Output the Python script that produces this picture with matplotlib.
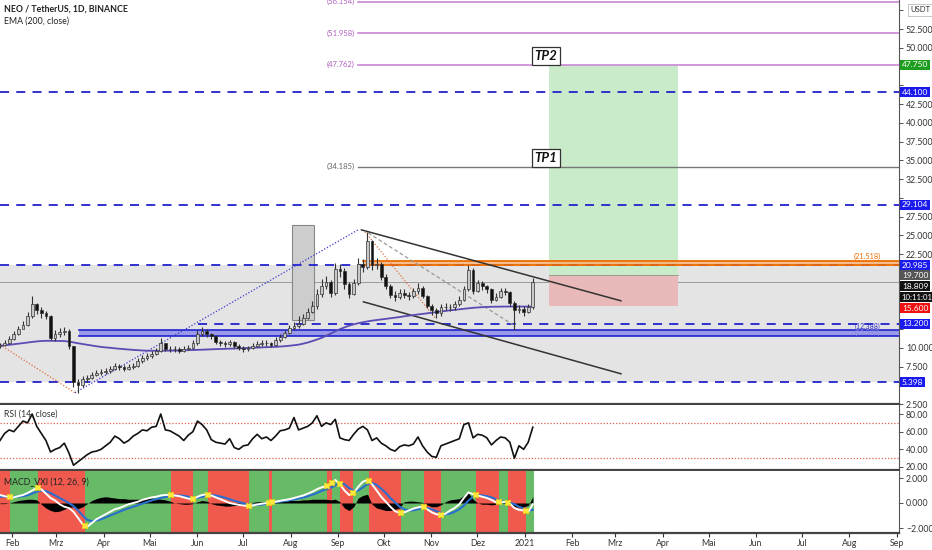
import numpy as np
import pandas as pd
import matplotlib
matplotlib.use("Agg")
import matplotlib.pyplot as plt
from matplotlib.patches import Rectangle

plt.rcParams['font.family'] = ['Lato', 'DejaVu Sans']

# ---------------- data ----------------
start_date = "2020-01-24"
step_days = 3
close = [10.4,10.6,11.2,11.8,12.5,13.0,14.2,15.8,15.0,14.6,
         14.2,11.3,11.8,12.1,12.3,10.2,5.5,5.0,5.8,6.0,
         6.4,6.6,6.8,6.9,7.2,7.6,7.4,7.2,7.4,7.6,
         8.2,8.6,8.9,9.2,9.6,10.6,9.9,9.8,9.9,9.6,
         9.8,10.0,10.6,11.9,12.3,11.8,11.6,10.8,10.6,10.5,
         10.8,10.3,10.0,9.9,10.0,10.3,10.5,10.6,10.6,10.4,
         11.0,11.5,12.0,12.6,12.9,13.2,14.0,14.8,15.6,17.2,
         18.3,18.8,17.3,20.5,20.3,18.5,17.2,18.6,21.2,20.8,
         24.3,21.0,21.2,19.4,18.2,17.0,16.8,17.3,17.1,16.9,
         17.6,18.0,16.9,15.6,15.0,14.6,15.4,15.5,15.4,15.8,
         16.4,17.8,20.4,17.6,18.6,18.2,17.8,16.4,16.8,17.6,
         17.4,16.0,15.0,15.2,14.8,15.4,18.8]
high = [10.7,11.0,11.6,12.2,12.9,13.6,14.8,16.9,16.0,15.4,
        14.9,14.4,12.4,12.6,12.8,12.5,10.3,5.9,6.3,6.4,
        6.8,7.0,7.2,7.3,7.6,8.0,7.9,7.7,7.8,8.0,
        8.6,9.0,9.3,9.6,10.0,11.3,10.7,10.3,10.3,10.1,
        10.2,10.4,11.0,12.4,12.8,12.5,12.0,11.7,11.0,10.9,
        11.1,10.9,10.5,10.3,10.3,10.7,10.9,11.0,11.0,10.8,
        11.4,11.9,12.4,13.0,13.4,14.3,14.5,15.3,16.2,17.8,
        19.2,19.6,19.0,21.3,21.2,20.6,18.8,19.2,22.0,21.8,
        25.4,24.4,22.0,21.5,19.8,18.5,17.6,17.8,17.8,17.5,
        18.0,18.6,18.2,17.1,15.8,15.3,15.9,16.0,15.9,16.2,
        16.9,18.3,21.0,20.6,19.0,18.9,18.4,18.0,17.3,18.0,
        18.0,17.6,16.2,15.7,15.6,15.8,19.3]
low = [10.0,10.2,10.5,11.1,11.7,12.6,12.9,14.0,14.5,14.0,
       13.8,11.0,10.9,11.5,11.7,9.8,4.8,4.0,4.8,5.5,
       5.8,6.2,6.4,6.5,6.7,7.1,7.0,6.9,7.0,7.2,
       7.5,8.0,8.4,8.7,9.1,9.4,9.6,9.5,9.5,9.3,
       9.4,9.7,9.9,10.4,11.6,11.4,11.2,10.5,10.3,10.1,
       10.3,10.0,9.7,9.5,9.6,9.8,10.1,10.2,10.3,10.1,
       10.3,10.8,11.3,11.8,12.4,12.6,13.1,13.8,14.6,15.2,
       16.8,17.8,16.8,17.1,19.4,17.9,16.6,17.0,18.4,20.1,
       20.5,20.4,20.5,19.0,17.8,16.6,16.2,16.5,16.6,16.4,
       16.6,17.2,16.6,15.3,14.4,14.0,14.3,15.0,14.9,15.1,
       15.6,16.2,17.6,17.2,17.4,17.7,17.3,16.0,16.2,16.6,
       17.0,15.6,12.4,14.6,14.3,14.6,15.2]
first_open = 10.2
ema200 = [10.27,10.33,10.40,10.47,10.55,10.62,10.70,10.78,10.85,10.90,
          10.93,10.93,10.92,10.91,10.90,10.82,10.72,10.60,10.50,10.40,
          10.30,10.20,10.12,10.05,10.00,9.93,9.87,9.82,9.77,9.72,
          9.68,9.64,9.61,9.60,9.60,9.61,9.61,9.62,9.62,9.64,
          9.66,9.68,9.70,9.72,9.75,9.77,9.80,9.82,9.84,9.86,
          9.88,9.90,9.92,9.95,9.98,10.01,10.03,10.05,10.08,10.10,
          10.13,10.17,10.21,10.27,10.34,10.42,10.55,10.70,10.90,11.10,
          11.32,11.60,11.90,12.20,12.48,12.72,12.95,13.12,13.28,13.40,
          13.52,13.62,13.70,13.78,13.86,13.94,14.02,14.10,14.20,14.28,
          14.36,14.45,14.52,14.60,14.68,14.76,14.85,14.92,15.00,15.06,
          15.13,15.20,15.27,15.33,15.38,15.42,15.45,15.47,15.48,15.49,
          15.50,15.50,15.50,15.50,15.50,15.50,15.50]
rsi = [50,58,62,60,66,72,70,80,66,58,
       50,37,40,42,47,36,22,26,30,34,
       37,38,40,44,48,55,52,47,50,55,
       58,62,61,65,66,80,62,61,58,55,
       50,56,60,72,68,62,51,48,47,46,
       52,42,40,44,45,52,57,52,54,50,
       55,61,62,64,76,62,64,66,70,78,
       66,70,68,74,53,51,50,57,63,66,
       62,50,53,47,44,40,38,43,45,44,
       46,54,44,37,32,31,44,46,48,50,
       52,68,70,53,57,56,53,45,50,54,
       53,48,30,44,40,48,65]
macd = [0.64,0.55,0.45,0.45,0.55,0.64,0.8,1.0,1.2,1.1,
        0.75,0.4,0.2,-0.1,-0.3,-0.4,-0.7,-1.2,-1.7,-1.9,
        -1.6,-1.3,-1.1,-0.9,-0.7,-0.5,-0.4,-0.25,-0.1,0.0,
        0.1,0.25,0.35,0.45,0.5,0.6,0.65,0.64,0.6,0.55,
        0.45,0.35,0.3,0.5,0.64,0.7,0.6,0.45,0.3,0.15,
        0.0,-0.08,-0.15,-0.2,-0.24,-0.2,-0.12,-0.05,0.0,0.06,
        0.1,0.18,0.24,0.3,0.4,0.5,0.6,0.75,0.9,1.1,
        1.25,1.35,1.5,1.85,1.5,1.0,0.64,0.8,1.3,1.7,
        1.84,1.5,1.0,0.5,0.1,-0.3,-0.65,-0.8,-0.75,-0.6,
        -0.45,-0.35,-0.3,-0.5,-0.75,-0.9,-0.96,-0.85,-0.6,-0.4,
        -0.1,0.4,0.85,0.7,0.6,0.5,0.4,0.25,0.05,0.05,
        0.1,-0.05,-0.4,-0.55,-0.6,-0.72,-0.1]
signal = [0.5,0.52,0.5,0.48,0.5,0.55,0.62,0.75,0.9,1.0,
          0.95,0.8,0.6,0.4,0.2,0.0,-0.25,-0.6,-1.0,-1.35,
          -1.45,-1.4,-1.3,-1.15,-1.0,-0.85,-0.7,-0.55,-0.42,-0.3,
          -0.18,-0.05,0.08,0.2,0.3,0.4,0.48,0.54,0.58,0.6,
          0.57,0.5,0.42,0.42,0.5,0.58,0.62,0.6,0.52,0.42,
          0.3,0.18,0.08,-0.02,-0.1,-0.15,-0.16,-0.12,-0.06,0.0,
          0.05,0.1,0.16,0.22,0.28,0.36,0.44,0.54,0.66,0.8,
          0.96,1.1,1.22,1.4,1.6,1.5,1.2,0.95,1.0,1.25,
          1.5,1.6,1.45,1.15,0.8,0.4,0.05,-0.3,-0.5,-0.6,
          -0.58,-0.5,-0.42,-0.4,-0.5,-0.65,-0.8,-0.9,-0.85,-0.7,
          -0.5,-0.2,0.2,0.5,0.62,0.6,0.55,0.45,0.3,0.15,
          0.08,0.05,-0.1,-0.3,-0.45,-0.6,-0.55]
hist = [-0.05,-0.05,0.0,0.1,0.2,0.25,0.3,0.3,0.25,-0.1,
        -0.4,-0.6,-0.7,-0.65,-0.5,-0.35,-0.3,-0.45,-0.3,-0.05,
        0.2,0.35,0.45,0.5,0.45,0.4,0.35,0.35,0.3,0.3,
        0.3,0.3,0.35,0.4,0.35,0.3,0.25,0.15,0.0,-0.05,
        -0.1,-0.1,-0.05,0.1,0.2,0.15,-0.05,-0.15,-0.2,-0.25,
        -0.25,-0.2,-0.15,-0.1,-0.05,0.05,0.1,0.1,0.1,0.05,
        0.1,0.15,0.15,0.2,0.2,0.2,0.25,0.25,0.3,0.3,
        0.3,0.3,0.25,0.3,0.1,-0.4,-0.6,-0.3,0.4,0.6,
        0.7,-0.1,-0.4,-0.5,-0.6,-0.6,-0.5,-0.4,0.1,0.15,
        0.15,0.1,0.05,-0.15,-0.3,-0.3,-0.15,0.1,0.25,0.3,
        0.35,0.6,0.8,0.3,0.0,-0.1,-0.1,-0.15,-0.1,0.0,
        0.05,-0.1,-0.3,-0.35,-0.3,-0.2,0.5]
# MACD regime changes (dates) ; first regime is bearish
regime_dates = ["2020-01-24","2020-01-31","2020-02-18","2020-03-20","2020-05-15",
                "2020-05-29","2020-06-08","2020-07-05","2020-07-18","2020-07-20",
                "2020-08-25","2020-08-28","2020-09-02","2020-09-11","2020-09-21",
                "2020-10-12","2020-10-27","2020-11-07","2020-11-30","2020-12-15",
                "2020-12-21","2021-01-02","2021-01-07"]

# horizontal levels
dash_levels = [44.100, 29.104, 20.985, 5.398]
level_13 = 13.200
fib_levels = [56.154, 51.958, 47.762]
tp1_level = 34.185
orange_band = (20.985, 21.518)
blue_band = (11.592, 12.388)
last_price = 18.809
tp2_price, entry_price, stop_price = 47.750, 19.700, 15.600

month_labels = ["Feb","Mrz","Apr","Mai","Jun","Jul","Aug","Sep","Okt","Nov","Dez",
                "2021","Feb","Mrz","Apr","Mai","Jun","Jul","Aug","Sep"]
month_dates = ["2020-02-01","2020-03-01","2020-04-01","2020-05-01","2020-06-01","2020-07-01",
               "2020-08-01","2020-09-01","2020-10-01","2020-11-01","2020-12-01","2021-01-01",
               "2021-02-01","2021-03-01","2021-04-01","2021-05-01","2021-06-01","2021-07-01",
               "2021-08-01","2021-09-01"]

# ---------------- helpers ----------------
ORIGIN = pd.Timestamp("2020-01-01")
def dnum(s):
    return (pd.Timestamp(s) - ORIGIN).days

n = len(close)
days = dnum(start_date) + 0.2 + np.arange(n) * step_days
opens = [first_open] + close[:-1]
XMIN, XMAX = 23.2, 610.4

W, H = 932, 550
fig = plt.figure(figsize=(W / 100, H / 100), dpi=100)
fig.patch.set_facecolor("white")

def rect(top, bottom, left=0, right=899):
    return [left / W, 1 - bottom / H, (right - left) / W, (bottom - top) / H]

ax = fig.add_axes(rect(0, 404))
ax_r = fig.add_axes(rect(405, 470))
ax_m = fig.add_axes(rect(471, 533))

for a in (ax, ax_r, ax_m):
    a.set_xlim(XMIN, XMAX)
    a.set_facecolor("white")
    a.spines["left"].set_visible(False)
    a.spines["right"].set_color("#555")
    a.spines["top"].set_visible(False)
    a.spines["bottom"].set_color("#444")
    a.spines["bottom"].set_linewidth(1.6)
    a.yaxis.tick_right()
    a.tick_params(axis="y", which="both", labelsize=6.3, colors="#333", length=3, width=0.6, pad=2)
    a.tick_params(axis="x", bottom=False, labelbottom=False)

ax.set_ylim(2.533, 56.4)
ax_r.set_ylim(16.6, 90.2)
ax_m.set_ylim(-2.4, 2.56)

# price axis ticks (labels hidden where a coloured price tag covers them)
pt = np.arange(2.5, 56, 2.5)
covered = {5.0, 12.5, 15.0, 17.5, 20.0, 30.0, 45.0, 47.5, 55.0}
ax.set_yticks(pt)
ax.set_yticklabels(["" if round(v, 1) in covered else f"{v:.3f}" for v in pt])
ax_r.set_yticks([20, 40, 60, 80])
ax_r.set_yticklabels(["20.00", "40.00", "60.00", "80.00"])
ax_m.set_yticks([-2, 0, 2])
ax_m.set_yticklabels(["\u22122.000", "0.000", "2.000"])

# x ticks on MACD panel
md = [dnum(d) for d in month_dates]
ax_m.set_xticks(md)
ax_m.set_xticklabels(month_labels)
ax_m.tick_params(axis="x", bottom=True, labelbottom=True, labelsize=6.3, colors="#333", length=3, pad=1.5)

# ---------------- price panel ----------------
ax.axhspan(dash_levels[3], dash_levels[2], color="#e4e4e4", zorder=0, lw=0)
ax.axhline(last_price, color="#9a9a9a", lw=0.7, zorder=1)

# vertical gray box
ax.add_patch(Rectangle((dnum("2020-08-02"), 13.73), 14.3, 26.4 - 13.73,
                       fc="#cdcdcd", ec="#888", lw=0.8, zorder=1))

# trade boxes
bx0, bx1 = dnum("2021-01-17") - 0.2, dnum("2021-04-11")
ax.add_patch(Rectangle((bx0, entry_price), bx1 - bx0, tp2_price - entry_price,
                       fc="#c9ebc9", ec="none", zorder=1))
ax.add_patch(Rectangle((bx0, stop_price), bx1 - bx0, entry_price - stop_price,
                       fc="#e9b8b8", ec="none", zorder=1))
ax.plot([bx0, bx1], [entry_price, entry_price], color="#8a9a8a", lw=0.6, zorder=1)

# dashed blue levels
for lv in dash_levels:
    ax.axhline(lv, color="#2222cc", lw=1.3, ls=(0, (5, 4)), zorder=3)
ax.plot([dnum("2020-06-01") + 0.8, XMAX], [level_13, level_13], color="#2222cc",
        lw=1.3, ls=(0, (5, 4)), zorder=3)

# blue band
bb0 = dnum("2020-03-16")
ax.fill_between([bb0, XMAX], blue_band[0], blue_band[1], color="#6a6aee", alpha=0.6, lw=0, zorder=2)
ax.plot([bb0, XMAX], [blue_band[0]] * 2, color="#2323d0", lw=1.2, zorder=3)
ax.plot([bb0, XMAX], [blue_band[1]] * 2, color="#2323d0", lw=1.2, zorder=3)

# orange band
ob0 = dnum("2020-09-17")
ax.fill_between([ob0, XMAX], orange_band[0], orange_band[1], color="#f7b27a", alpha=0.85, lw=0, zorder=2)
ax.plot([ob0, XMAX], [orange_band[0]] * 2, color="#ef6c00", lw=1.3, zorder=3)
ax.plot([ob0, XMAX], [orange_band[1]] * 2, color="#ef6c00", lw=1.3, zorder=3)

# fib / target lines
fx0 = dnum("2020-09-14")
for lv in fib_levels:
    ax.plot([fx0, XMAX], [lv, lv], color="#cc88d6", lw=1.2, zorder=3)
    ax.text(fx0 - 2, lv, f"({lv:.3f})", color="#b060c0", fontsize=5.5, ha="right", va="center", zorder=4)
ax.plot([fx0, XMAX], [tp1_level, tp1_level], color="#777", lw=1.0, zorder=3)
ax.text(fx0 - 2, tp1_level, f"({tp1_level:.3f})", color="#666", fontsize=5.5, ha="right", va="center", zorder=4)

ax.text(XMAX - 12, orange_band[1] + 0.15, f"({orange_band[1]:.3f})", color="#ef6c00", fontsize=5.3,
        ha="right", va="bottom", zorder=4)
ax.text(XMAX - 12, blue_band[1] + 0.45, f"({blue_band[1]:.3f})", color="#2a2acc", fontsize=5.0,
        ha="right", va="center", zorder=4)
ax.text(XMAX - 12, blue_band[0] + 0.4, f"({blue_band[0]:.3f})", color="#8a8ae0", fontsize=5.0,
        ha="right", va="center", zorder=4)

# TP labels
for lbl, yv in (("TP2", 48.9), ("TP1", 35.3)):
    ax.text(bx0 - 2, yv, lbl, fontsize=9.5, fontstyle="italic", fontweight="bold", color="#111",
            ha="center", va="center", zorder=6,
            bbox=dict(boxstyle="square,pad=0.22", fc="white", ec="#333", lw=0.9))

# channel lines
ax.plot([dnum("2020-09-16") + 0.3, dnum("2021-03-04") + 0.8], [25.73, 16.27], color="#333", lw=1.1, zorder=4)
ax.plot([dnum("2020-09-17") + 0.6, dnum("2021-03-04") + 0.8], [16.13, 6.53], color="#333", lw=1.1, zorder=4)
# dotted pattern lines
ax.plot([72.2, 257.0], [4.0, 25.73], color="#3a3ad0", lw=0.9, ls=(0, (1, 1.5)), zorder=4)
ax.plot([23.2, 72.2], [10.4, 4.0], color="#e0703a", lw=0.9, ls=(0, (1, 1.5)), zorder=4)
ax.plot([261.6, 307.3], [25.47, 14.0], color="#e0703a", lw=0.9, ls=(0, (1, 1.5)), zorder=4)
ax.plot([263.6, 358.3], [25.33, 13.07], color="#999", lw=0.9, ls=(0, (3, 2)), zorder=4)

# EMA
ax.plot(days, ema200, color="#5a4bb5", lw=1.3, zorder=5)

# candles
for d, o, h, l, c in zip(days, opens, high, low, close):
    up = c >= o
    ax.vlines(d, l, h, color="#333", lw=0.8, zorder=6)
    ax.add_patch(Rectangle((d - 0.9, min(o, c)), 1.8, max(abs(c - o), 0.05),
                           fc="#c8c8c8" if up else "#111", ec="#333", lw=0.5, zorder=7))

# header texts
ax.text(0.004, 0.978, "NEO / TetherUS, 1D, BINANCE", transform=ax.transAxes,
        fontsize=6.3, fontweight="bold", color="#222", va="center", ha="left")
ax.text(0.004, 0.948, "EMA (200, close)", transform=ax.transAxes,
        fontsize=6.3, color="#222", va="center", ha="left")

# right axis price labels
def plabel(a, y, text, fc, tc="white", fs=6.0):
    a.annotate(text, xy=(1.0, y), xycoords=("axes fraction", "data"), xytext=(2.0, 0),
               textcoords="offset points", ha="left", va="center", fontsize=fs, color=tc,
               bbox=dict(boxstyle="square,pad=0.18", fc=fc, ec="none"),
               annotation_clip=False, zorder=20)

plabel(ax, tp2_price, "47.750", "#1e9e1e")
plabel(ax, dash_levels[0], "44.100", "#1a1aee")
plabel(ax, dash_levels[1], "29.104", "#1a1aee")
plabel(ax, dash_levels[2], "20.985", "#1a1aee")
plabel(ax, entry_price, "19.700", "#555555")
plabel(ax, 18.2, "18.809", "#111111")
plabel(ax, 16.75, "10:11:01", "#111111", fs=5.6)
plabel(ax, stop_price - 0.3, "15.600", "#ee1111")
plabel(ax, level_13, "13.200", "#1a1aee")
plabel(ax, dash_levels[3], "5.398", "#1a1aee")
ax.annotate("USDT", xy=(1.0, 55.1), xycoords=("axes fraction", "data"), xytext=(8, 0),
            textcoords="offset points", ha="left", va="center", fontsize=5.5, color="#333",
            bbox=dict(boxstyle="square,pad=0.3", fc="white", ec="#bbb", lw=0.6),
            annotation_clip=False, zorder=21)

# ---------------- RSI panel ----------------
ax_r.axhline(70, color="#e06050", lw=0.9, ls=(0, (1, 1.5)))
ax_r.axhline(30, color="#e06050", lw=0.9, ls=(0, (1, 1.5)))
ax_r.plot(days, rsi, color="#111", lw=1.2, zorder=3)
ax_r.text(0.004, 0.86, "RSI (14, close)", transform=ax_r.transAxes, fontsize=6.3, color="#333",
          va="center", ha="left", zorder=5)

# ---------------- MACD panel ----------------
rd = [dnum(d) for d in regime_dates]
rd[0] = XMIN
for k in range(len(rd) - 1):
    col = "#f05a4e" if k % 2 == 0 else "#67bb67"
    ax_m.axvspan(rd[k], rd[k + 1], color=col, lw=0, zorder=0)
ax_m.fill_between(days, 0, hist, color="#000", lw=0, zorder=2)
ax_m.plot(days, signal, color="#2a6fd0", lw=1.5, zorder=3)
ax_m.plot(days, macd, color="white", lw=1.4, zorder=4)
cx = np.array(rd[1:-1], dtype=float)
ax_m.plot(cx, np.interp(cx, days, macd), ls="none", marker="X", ms=5, color="#ffe93b",
          mec="#f5d000", mew=0.3, zorder=5)
ax_m.text(0.004, 0.82, "MACD_VXI (12, 26, 9)", transform=ax_m.transAxes, fontsize=6.3, color="#222",
          va="center", ha="left", zorder=6)

fig.savefig("out.png", dpi=100)
